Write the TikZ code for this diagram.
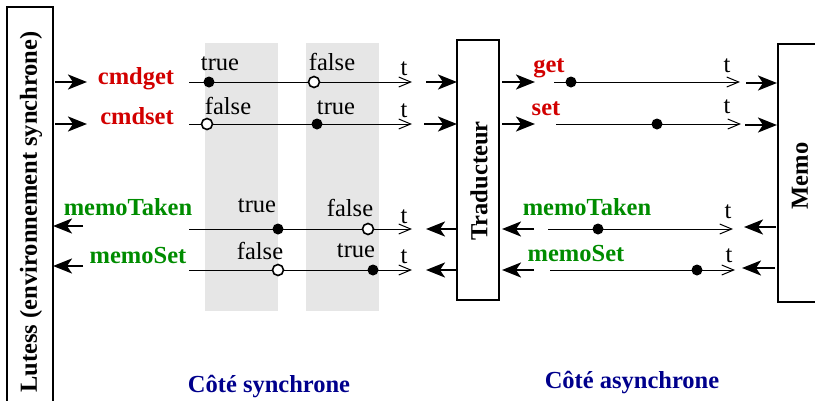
\documentclass[tikz,border=0pt]{standalone}
\usepackage{fontspec}
\setmainfont{Liberation Serif}
\usetikzlibrary{arrows.meta}
\definecolor{cred}{RGB}{210,0,0}
\definecolor{cgreen}{RGB}{0,140,0}
\definecolor{cblue}{RGB}{0,0,140}
\definecolor{band}{RGB}{230,230,230}
\tikzset{
  box/.style={draw, line width=1.2pt, inner sep=0pt},
  boxtext/.style={font=\fontsize{24.5}{28}\selectfont\bfseries, rotate=90, inner sep=0pt},
  big/.style={line width=2.4pt, -{Stealth[length=19pt,width=15pt,inset=5pt]}},
  tl/.style={line width=1pt, -{Straight Barb[length=12pt,width=10pt,line width=1pt]}},
  lbl/.style={font=\fontsize{24.5}{28}\selectfont, anchor=base, inner sep=0pt},
  sig/.style={font=\fontsize{24.5}{28}\selectfont\bfseries, anchor=base, inner sep=0pt},
  fdot/.style={circle, fill=black, minimum size=11pt, inner sep=0pt},
  odot/.style={circle, draw=black, fill=white, line width=1.6pt, minimum size=11pt, inner sep=0pt},
}
\begin{document}
\begin{tikzpicture}[x=1pt,y=-1pt]
\useasboundingbox (0,0) rectangle (815,400);
% grey bands
\fill[band] (205,43) rectangle (278,311);
\fill[band] (306,43) rectangle (379,311);
% boxes
\node[box, minimum width=46pt, minimum height=400pt] (lutess) at (30,207) {};
\node[boxtext] (lutesstxt) at (31,212) {Lutess (environnement synchrone)};
\node[box, minimum width=42pt, minimum height=260pt] (trad) at (478,170) {};
\node[boxtext] (tradtxt) at (479,181) {Traducteur};
\node[box, minimum width=60pt, minimum height=258pt] (memo) at (808,173) {};
\node[boxtext] (memotxt) at (800,176) {Memo};
% coordinates for arrows
\foreach \n/\x/\y in {a1s/55/82, a1e/87/82, a2s/55/124, a2e/87/124,
  b1s/426/82, b1e/457/82, b2s/424/124, b2e/457/124,
  c1s/502/82, c1e/535/82, c2s/502/124, c2e/535/124,
  d1s/746/83, d1e/777/83, d2s/745/125, d2e/777/125,
  e1s/83/226, e1e/53/226, e2s/83/266, e2e/53/266,
  f1s/457/229, f1e/426/229, f2s/457/270, f2e/426/270,
  g1s/534/229, g1e/502/229, g2s/534/270, g2e/502/270,
  h1s/776/227, h1e/744/227, h2s/775/268, h2e/742/268,
  t1s/189/82, t1e/412/82, t2s/189/124, t2e/412/124,
  t3s/554/82, t3e/740/82, t4s/556/124, t4e/741/124,
  t5s/189/229, t5e/412/229, t6s/189/270, t6e/412/270,
  t7s/548/229, t7e/733/229, t8s/550/270, t8e/735/270}
  {\coordinate (\n) at (\x,\y);}
% big arrows
\foreach \p in {a1,a2,b1,b2,c1,c2,d1,d2,e1,e2,f1,f2,g1,g2,h1,h2}
  \draw[big] (\p s) -- (\p e);
% timelines
\foreach \p in {t1,t2,t3,t4,t5,t6,t7,t8}
  \draw[tl] (\p s) -- (\p e);
% dots
\node[fdot] (d11) at (209,82) {};
\node[odot] (d12) at (314,82) {};
\node[odot] (d21) at (207,124) {};
\node[fdot] (d22) at (317,124) {};
\node[fdot] (d31) at (571,82) {};
\node[fdot] (d41) at (657,124) {};
\node[fdot] (d51) at (278,229) {};
\node[odot] (d52) at (368,229) {};
\node[odot] (d61) at (278,270) {};
\node[fdot] (d62) at (373,270) {};
\node[fdot] (d71) at (598,229) {};
\node[fdot] (d81) at (697,270) {};
% signal names
\node[sig, text=cred] (cmdget) at (136,84) {cmdget};
\node[sig, text=cred] (cmdset) at (137,124) {cmdset};
\node[sig, text=cred] (get) at (549,72) {get};
\node[sig, text=cred] (set) at (546,115) {set};
\node[sig, text=cgreen] (mtL) at (128,215) {memoTaken};
\node[sig, text=cgreen] (msL) at (138,263) {memoSet};
\node[sig, text=cgreen] (mtR) at (587,215) {memoTaken};
\node[sig, text=cgreen] (msR) at (576,261) {memoSet};
% value labels
\node[lbl] (v11) at (220,70) {true};
\node[lbl] (v12) at (332,70) {false};
\node[lbl] (tt1) at (404,75) {t};
\node[lbl] (v21) at (228,114) {false};
\node[lbl] (v22) at (336,114) {true};
\node[lbl] (tt2) at (404,117) {t};
\node[lbl] (tt3) at (727,72) {t};
\node[lbl] (tt4) at (727,113) {t};
\node[lbl] (v51) at (257,212) {true};
\node[lbl] (v52) at (350,216) {false};
\node[lbl] (tt5) at (404,223) {t};
\node[lbl] (v61) at (260,259) {false};
\node[lbl] (v62) at (356,257) {true};
\node[lbl] (tt6) at (404,263) {t};
\node[lbl] (tt7) at (728,218) {t};
\node[lbl] (tt8) at (729,262) {t};
% side titles
\node[sig, text=cblue] (sync) at (269,392) {Côté synchrone};
\node[sig, text=cblue] (async) at (632,388) {Côté asynchrone};
\end{tikzpicture}
\end{document}
